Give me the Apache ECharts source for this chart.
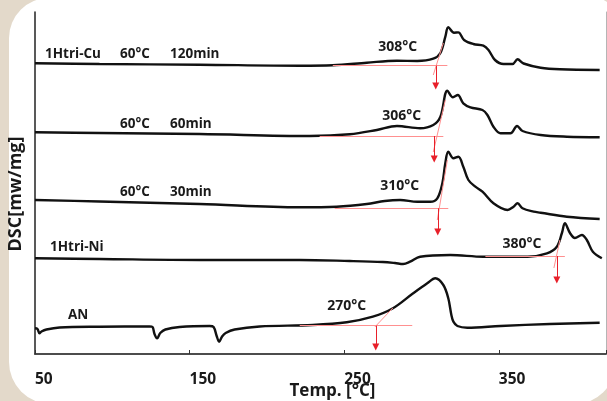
<!DOCTYPE html>
<html>
<head>
<meta charset="utf-8">
<script src="https://cdn.jsdelivr.net/npm/echarts@6/dist/echarts.min.js"></script>
<style>
html,body{margin:0;padding:0;background:#e3d9ca;}
#c{width:607px;height:401px;}
</style>
</head>
<body>
<div id="c"></div>
<script>
// Temperature (°C) vs DSC signal (arbitrary offset units)
const cu120 = [[50,290.7],[91.7,290],[156.5,289.3],[221.2,288.3],[242.6,288.7],[264.6,291.3],[284.1,293.3],[297.2,293],[307.6,295.3],[312.2,301],[315.4,317.3],[317.3,326.7],[321.0,321.3],[323.8,321.6],[327.5,314],[333.5,310],[340.0,308.3],[343.3,304],[347.5,294],[353.0,290],[358.8,290],[362.1,294.7],[366.0,290.5],[377.0,286.3],[389.5,284.7],[415.2,284]];
const cu60 = [[50,221.7],[91.7,221],[156.5,220],[227.7,218],[253.6,219.7],[271.1,224],[284.1,228],[299.1,225.7],[307.6,229],[312.2,237.3],[316.7,263.3],[320.3,256.7],[323.5,259],[327.0,250.7],[331.6,246.7],[339.4,244],[342.6,239],[346.5,227.3],[351.1,220.7],[357.5,220.7],[361.8,228],[365.3,223],[377.0,219],[394.0,217.3],[415.2,216.7]];
const cu30 = [[50,154],[91.7,152.5],[156.5,150],[221.2,146.7],[245.1,147.3],[264.6,150],[276.2,153],[286.1,154],[297.2,152.3],[305.6,152.3],[310.2,155.7],[313.5,171],[315.4,191],[317.3,202.3],[320.6,195.7],[323.8,197.3],[327.0,187.3],[330.3,174],[334.8,167.3],[339.4,162.3],[346.5,150.7],[355.6,144],[359.5,147.3],[362.1,150.7],[365.3,145.7],[372.5,142.3],[377.0,141.3],[394.0,137.3],[415.2,135]];
const ni = [[50,95.7],[91.7,95],[156.5,94],[221.2,94],[253.6,93],[275.0,92],[282.8,91],[288.1,90],[292.6,92.3],[299.1,97.3],[318.6,99],[340.0,97.3],[368.6,97.3],[381.1,100.7],[387.5,107.3],[390.8,121],[392.7,130.7],[396.0,121],[399.2,116],[403.7,119],[406.9,114],[410.8,102.3],[416.6,95.7]];
const an = [[50,25.7],[51.6,25],[52.9,20.7],[54.2,22.5],[57.4,24.5],[65.9,26.5],[91.7,27.3],[124.1,27.6],[126.0,27],[127.3,20],[129.0,15.7],[131.0,21],[134.3,24.5],[143.5,27],[162.9,28],[165.5,27],[167.5,18],[169.1,12.3],[171.0,17.5],[173.3,21],[179.1,24.5],[195.3,27.5],[229.6,29],[251.6,31.7],[268.5,37.3],[281.5,45.7],[294.6,60.7],[303.7,70.7],[308.9,75.7],[314.1,69],[317.3,55.7],[319.3,39],[320.6,32.3],[323.2,28],[329.6,26.3],[351.1,28],[383.0,30],[415.2,31.3]];

// onset-construction annotations: baseline [T0,T1,v], tangent [[T,v],[T,v]], arrow [T, vFrom, vTo], label
const onsetLabels = ['308°C','306°C','310°C','380°C','270°C'];
const baselines = [[242.6,316.7,288.3],[234.1,314.1,218],[243.8,317.3,145.7],[341.3,392.7,98],[221.2,294.0,28.3]];
const tangents = [[[314.1,311],[307.6,279]],[[315.4,254],[307.6,202]],[[316.7,194],[310.2,134]],[[389.5,114],[385.6,86]],[[281.4,46],[269.8,27]]];
const arrows = [[309.2,288.3,268],[308.2,218,195],[310.5,145.7,122],[387.5,98,74],[270.4,28.3,7]];
const labelPos = [[284.6,307],[287.2,238],[285.9,168],[364.9,110],[251.6,48]];

const sampleNames = ['1Htri-Cu','1Htri-Ni','AN'];
const condTemps = ['60°C','60°C','60°C'];
const condTimes = ['120min','60min','30min'];

const xTicks = [50,150,250,350];

const chart = echarts.init(document.getElementById('c'), null, {renderer:'canvas'});
const FONT = '"Open Sans", "Noto Sans", sans-serif';
const txtStyle = {fontFamily: FONT, fontWeight: 'bold', fontSize: 13.5, fill: '#1a1a1a'};

function curve(name, data){
  return {name, type:'line', data, smooth:0.35, showSymbol:false, silent:true,
    lineStyle:{color:'#111', width:2.4}, z:3};
}

const markData = [];
baselines.forEach(b => markData.push([{coord:[b[0],b[2]], symbol:'none', lineStyle:{color:'#ff9090', width:1, type:'solid'}},{coord:[b[1],b[2]], symbol:'none'}]));
tangents.forEach(t => markData.push([{coord:t[0], symbol:'none', lineStyle:{color:'#ff9090', width:1, type:'solid'}},{coord:t[1], symbol:'none'}]));
arrows.forEach(a => markData.push([{coord:[a[0],a[1]], symbol:'none', lineStyle:{color:'#e8202a', width:1, type:'solid'}},{coord:[a[0],a[2]], symbol:'triangle', symbolSize:[7,7], symbolRotate:180}]));

const labelPoints = onsetLabels.map((l,i)=>({coord:labelPos[i], value:l}));

const option = {
  animation:false,
  backgroundColor:'transparent',
  graphic:[
    {type:'rect', z:-10, shape:{x:9, y:-2, width:606, height:406, r:[40,20,40,42]}, style:{fill:'#ffffff'}},
    {type:'text', left:45, top:47, style:Object.assign({text:sampleNames[0]}, txtStyle)},
    {type:'text', left:120, top:47, style:Object.assign({text:condTemps[0]}, txtStyle)},
    {type:'text', left:170, top:47, style:Object.assign({text:condTimes[0]}, txtStyle)},
    {type:'text', left:120, top:117, style:Object.assign({text:condTemps[1]}, txtStyle)},
    {type:'text', left:170, top:117, style:Object.assign({text:condTimes[1]}, txtStyle)},
    {type:'text', left:120, top:185, style:Object.assign({text:condTemps[2]}, txtStyle)},
    {type:'text', left:170, top:185, style:Object.assign({text:condTimes[2]}, txtStyle)},
    {type:'text', left:50, top:240, style:Object.assign({text:sampleNames[1]}, txtStyle)},
    {type:'text', left:68, top:308, style:Object.assign({text:sampleNames[2]}, txtStyle)}
  ],
  grid:{left:35, right:1, top:12, bottom:47, containLabel:false, outerBoundsMode:'none'},
  xAxis:[{
    type:'value', min:50, max:419.3, interval:100,
    name:'Temp. [°C]', nameLocation:'middle', nameGap:29, nameMoveOverlap:false,
    nameTextStyle:{fontFamily:FONT, fontWeight:'bold', fontSize:17, color:'#1a1a1a', padding:[0,0,0,24]},
    axisLine:{show:true, lineStyle:{color:'#333', width:1.5}},
    axisTick:{show:true, inside:true, length:4, lineStyle:{color:'#333', width:1}},
    axisLabel:{show:true, align:'left', margin:18, fontFamily:FONT, fontWeight:'bold', fontSize:15.5, color:'#1a1a1a',
      formatter: v => xTicks.indexOf(v) >= 0 ? String(v) : ''},
    splitLine:{show:false}
  },{
    type:'value', position:'top', min:50, max:419.3,
    axisLine:{show:true, lineStyle:{color:'#444', width:1.5}},
    axisTick:{show:false}, axisLabel:{show:false}, splitLine:{show:false}
  }],
  yAxis:[{
    type:'value', min:0, max:342,
    name:'DSC[mw/mg]', nameLocation:'middle', nameGap:10, nameMoveOverlap:false,
    nameTextStyle:{fontFamily:FONT, fontWeight:'bold', fontSize:18, color:'#1a1a1a', padding:[0,22,0,0]},
    axisLine:{show:true, lineStyle:{color:'#222', width:1.5}},
    axisTick:{show:false}, axisLabel:{show:false}, splitLine:{show:false}
  },{
    type:'value', position:'right', min:0, max:342,
    axisLine:{show:true, lineStyle:{color:'#b5b5b5', width:1}},
    axisTick:{show:false}, axisLabel:{show:false}, splitLine:{show:false}
  }],
  series:[
    {type:'line', data:[], silent:true, z:2,
      markLine:{silent:true, animation:false, symbol:'none', label:{show:false}, emphasis:{disabled:true}, data:markData},
      markPoint:{silent:true, symbol:'circle', symbolSize:0, data:labelPoints,
        label:{show:true, position:'inside', formatter: p => p.value, fontFamily:FONT, fontWeight:'bold', fontSize:14, color:'#1a1a1a'}}
    },
    curve('1Htri-Cu 60°C 120min', cu120),
    curve('60°C 60min', cu60),
    curve('60°C 30min', cu30),
    curve('1Htri-Ni', ni),
    curve('AN', an)
  ]
};
chart.setOption(option);
</script>
</body>
</html>
